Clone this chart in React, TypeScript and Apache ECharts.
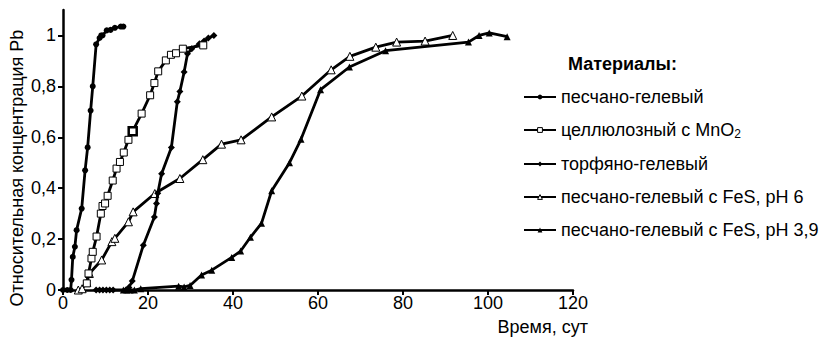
import React, { useEffect, useRef } from "react";
import * as echarts from "echarts";

// ---- data ----
const sandGelT = [0, 1.0, 1.8, 2.0, 2.3, 2.8, 3.2, 4.4, 5.2, 5.8, 6.5, 7.0, 7.8, 8.6, 9.0, 9.3, 10.3, 11.2, 12.2, 13.6, 14.2];
const sandGelV = [0, 0, 0, 0.04, 0.13, 0.17, 0.235, 0.32, 0.47, 0.56, 0.705, 0.8, 0.965, 0.99, 1.0, 1.0, 1.02, 1.022, 1.03, 1.035, 1.035];

const celluloseT = [5.6, 6.0, 6.7, 7.0, 7.9, 8.9, 9.3, 9.9, 10.5, 11.7, 12.6, 13.4, 14.3, 15.4, 16.4, 18.5, 20.5, 21.5, 22.4, 24.2, 25.4, 26.6, 28.2, 33.0];
const celluloseV = [0.026, 0.065, 0.124, 0.15, 0.21, 0.3, 0.33, 0.34, 0.37, 0.43, 0.477, 0.503, 0.54, 0.59, 0.624, 0.693, 0.765, 0.813, 0.859, 0.902, 0.924, 0.93, 0.948, 0.961];
const celluloseHighlightIndex = 14;

const peatGelT = [7.8, 8.6, 9.4, 10.2, 11.0, 11.8, 14.8, 15.5, 16.3, 18.9, 21.5, 22.0, 22.3, 23.2, 25.5, 26.9, 27.5, 28.5, 29.3, 30.3, 32.1, 33.2, 34.2, 35.5];
const peatGelV = [0, 0, 0, 0, 0, 0, 0, 0.01, 0.035, 0.176, 0.287, 0.34, 0.38, 0.457, 0.56, 0.74, 0.78, 0.856, 0.928, 0.948, 0.967, 0.978, 0.99, 1.0];

const fesPh6T = [3.6, 4.5, 5.6, 6.2, 9.1, 11.5, 12.2, 15.4, 16.5, 21.6, 27.5, 32.9, 37.3, 41.9, 49.1, 56.2, 63.1, 67.5, 73.6, 78.5, 85.2, 91.7];
const fesPh6V = [0, 0.005, 0.03, 0.065, 0.118, 0.19, 0.203, 0.268, 0.307, 0.379, 0.438, 0.512, 0.573, 0.59, 0.68, 0.762, 0.865, 0.918, 0.954, 0.974, 0.978, 1.0];

const fesPh39T = [14.2, 15.0, 15.8, 16.8, 18.3, 27.2, 28.5, 29.9, 32.6, 35.0, 39.7, 41.8, 44.1, 46.7, 49.1, 53.3, 56.0, 60.6, 67.4, 75.9, 95.4, 97.9, 100.3, 104.5];
const fesPh39V = [0, 0, 0, 0, 0.005, 0.015, 0.012, 0.018, 0.059, 0.078, 0.128, 0.153, 0.207, 0.262, 0.39, 0.5, 0.592, 0.787, 0.876, 0.94, 0.974, 1.0, 1.01, 0.995];

const seriesNames = [
  "песчано-гелевый",
  "целлюлозный с MnO2",
  "торфяно-гелевый",
  "песчано-гелевый с FeS, pH 6",
  "песчано-гелевый с FeS, pH 3,9",
];

const yTicks = [0, 0.2, 0.4, 0.6, 0.8, 1];
const yTickLabels = ["0", "0,2", "0,4", "0,6", "0,8", "1"];
const xTicks = [0, 20, 40, 60, 80, 100, 120];

const yAxisTitle = "Относительная концентрация Pb";
const xAxisTitle = "Время, сут";
const legendTitle = "Материалы:";

const FONT = "'Liberation Sans', Arial, Helvetica, sans-serif";

function pairs(t: number[], v: number[]) {
  return t.map((x, i) => [x, v[i]]);
}

export default function App() {
  const ref = useRef<HTMLDivElement>(null);
  useEffect(() => {
    if (!ref.current) return;
    const chart = echarts.init(ref.current, undefined, { renderer: "svg" });
    const lineStyle = { color: "#000", width: 2.8 };
    const openItem = { color: "#fff", borderColor: "#000", borderWidth: 1 };
    const celluloseData: any[] = pairs(celluloseT, celluloseV).map((p, i) =>
      i === celluloseHighlightIndex
        ? { value: p, symbolSize: 8, itemStyle: { borderWidth: 2.5 } }
        : p
    );
    chart.setOption({
      animation: false,
      textStyle: { fontFamily: FONT },
      grid: { left: 63, right: 259, top: 10, bottom: 47 },
      xAxis: {
        type: "value",
        min: 0,
        max: 120,
        interval: 20,
        splitLine: { show: false },
        axisLine: { show: true, onZero: false, lineStyle: { color: "#000", width: 2.5 } },
        axisTick: { show: true, length: 5, lineStyle: { color: "#000", width: 2 } },
        axisLabel: {
          color: "#000",
          fontSize: 18,
          fontFamily: FONT,
          margin: 4,
          formatter: (v: number) => (xTicks.includes(v) ? String(v) : ""),
        },
      },
      yAxis: {
        type: "value",
        min: 0,
        max: 1.1,
        splitLine: { show: false },
        axisLine: { show: true, lineStyle: { color: "#000", width: 2.5 } },
        axisTick: { show: true, length: 5, customValues: yTicks, lineStyle: { color: "#000", width: 2 } },
        axisLabel: {
          color: "#000",
          fontSize: 18,
          fontFamily: FONT,
          margin: 7,
          customValues: yTicks,
          formatter: (v: number) => {
            const idx = yTicks.findIndex((t) => Math.abs(t - v) < 1e-6);
            return idx >= 0 ? yTickLabels[idx] : "";
          },
        },
      },
      legend: {
        orient: "vertical",
        left: 523,
        top: 88,
        padding: 0,
        itemWidth: 32,
        itemHeight: 6,
        itemGap: 15,
        data: [
          { name: seriesNames[0] },
          { name: seriesNames[1], itemStyle: openItem },
          { name: seriesNames[2] },
          { name: seriesNames[3], itemStyle: openItem },
          { name: seriesNames[4] },
        ],
        textStyle: {
          color: "#000",
          fontSize: 18,
          fontFamily: FONT,
          rich: {
            sub: { fontSize: 12, fontFamily: FONT, color: "#000", verticalAlign: "bottom", padding: [8, 0, 0, 0] },
          },
        },
        formatter: (name: string) =>
          name === seriesNames[1] ? "целлюлозный с MnO{sub|2}" : name,
      },
      graphic: [
        {
          type: "text",
          left: 568,
          top: 55,
          style: { text: legendTitle, fontSize: 18, fontWeight: "bold", fontFamily: FONT, fill: "#000" },
        },
        {
          type: "text",
          x: 17,
          y: 168,
          rotation: Math.PI / 2,
          style: { text: yAxisTitle, fontSize: 18, fontFamily: FONT, fill: "#000", align: "center", verticalAlign: "middle" },
        },
        {
          type: "text",
          x: 588,
          y: 327,
          style: { text: xAxisTitle, fontSize: 18, fontFamily: FONT, fill: "#000", align: "right", verticalAlign: "middle" },
        },
      ],
      series: [
        {
          name: seriesNames[0],
          type: "line",
          data: pairs(sandGelT, sandGelV),
          symbol: "circle",
          symbolSize: 6,
          lineStyle,
          itemStyle: { color: "#000" },
          z: 5,
        },
        {
          name: seriesNames[1],
          type: "line",
          data: celluloseData,
          symbol: "rect",
          symbolSize: 7,
          lineStyle,
          itemStyle: openItem,
          z: 4,
        },
        {
          name: seriesNames[2],
          type: "line",
          data: pairs(peatGelT, peatGelV),
          symbol: "diamond",
          symbolSize: 7,
          lineStyle,
          itemStyle: { color: "#000" },
          z: 3,
        },
        {
          name: seriesNames[3],
          type: "line",
          data: pairs(fesPh6T, fesPh6V),
          symbol: "triangle",
          symbolSize: 8,
          lineStyle,
          itemStyle: openItem,
          z: 2,
        },
        {
          name: seriesNames[4],
          type: "line",
          data: pairs(fesPh39T, fesPh39V),
          symbol: "triangle",
          symbolSize: 7,
          lineStyle,
          itemStyle: { color: "#000" },
          z: 1,
        },
      ],
    });
    return () => chart.dispose();
  }, []);
  return (
    <div
      ref={ref}
      style={{ position: "fixed", left: 0, top: 0, width: 832, height: 337, background: "#fff" }}
    />
  );
}
